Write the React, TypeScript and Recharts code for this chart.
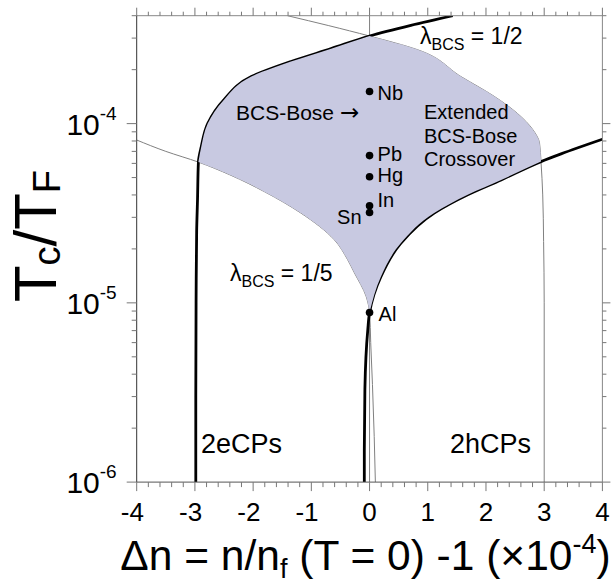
import React from 'react';
import { ComposedChart, Line, Scatter, XAxis, YAxis } from 'recharts';

// Δn (×1e-4) on x, Tc/TF on y (log scale)

// thick boundary on the 2eCP side
const leftBoundary = [
  { x: -2.985, y: 1e-6 }, { x: -2.985, y: 3e-6 }, { x: -2.98, y: 1e-5 }, { x: -2.97, y: 2.5e-5 },
  { x: -2.955, y: 3.8e-5 }, { x: -2.94, y: 6.1e-5 }, { x: -2.89, y: 7.45e-5 }, { x: -2.78, y: 1e-4 },
  { x: -2.5, y: 1.36e-4 }, { x: -2.03, y: 1.83e-4 }, { x: -1.35, y: 2.22e-4 }, { x: -0.66, y: 2.62e-4 },
  { x: 0, y: 3.08e-4 }, { x: 0.71, y: 3.53e-4 }, { x: 1.43, y: 4e-4 },
];

// thick boundary on the 2hCP side
const rightBoundary = [
  { x: -0.09, y: 1e-6 }, { x: -0.09, y: 1.5e-6 }, { x: -0.08, y: 3.3e-6 }, { x: -0.03, y: 7.1e-6 },
  { x: 0, y: 8.83e-6 }, { x: 0.195, y: 1.4e-5 }, { x: 0.536, y: 2.15e-5 }, { x: 1.11, y: 3.17e-5 },
  { x: 1.686, y: 4.01e-5 }, { x: 2.26, y: 4.85e-5 }, { x: 2.945, y: 6.14e-5 }, { x: 3.29, y: 6.78e-5 },
  { x: 4, y: 8.18e-5 },
];

// λBCS = 1/2 coupling curve
const lambdaHalf = [
  { x: -1.41, y: 4e-4 }, { x: -0.7, y: 3.52e-4 }, { x: 0, y: 3.08e-4 }, { x: 0.83, y: 2.58e-4 },
  { x: 1.57, y: 1.83e-4 }, { x: 2.14, y: 1.42e-4 }, { x: 2.54, y: 1.14e-4 }, { x: 2.8, y: 9.3e-5 },
  { x: 2.92, y: 7.8e-5 }, { x: 2.945, y: 6.14e-5 }, { x: 2.975, y: 4e-5 }, { x: 2.99, y: 2.2e-5 },
  { x: 3.0, y: 1e-5 }, { x: 3.0, y: 1e-6 },
];

// λBCS = 1/5 coupling curve
const lambdaFifth = [
  { x: -4, y: 8.1e-5 }, { x: -3.5, y: 7.0e-5 }, { x: -2.94, y: 6.1e-5 }, { x: -2.4, y: 5.18e-5 },
  { x: -1.8, y: 4.16e-5 }, { x: -1.18, y: 3.17e-5 }, { x: -0.606, y: 2.25e-5 }, { x: -0.376, y: 1.74e-5 },
  { x: -0.26, y: 1.47e-5 }, { x: -0.06, y: 1.09e-5 }, { x: 0, y: 8.83e-6 }, { x: 0.02, y: 6e-6 },
  { x: 0.05, y: 3.5e-6 }, { x: 0.08, y: 1.8e-6 }, { x: 0.1, y: 1e-6 },
];

// zero-doping guide line
const zeroLine = [{ x: 0, y: 1e-6 }, { x: 0, y: 4e-4 }];

// elemental superconductors at Δn = 0
const elements = [
  { name: 'Nb', x: 0, y: 1.51e-4 },
  { name: 'Pb', x: 0, y: 6.63e-5 },
  { name: 'Hg', x: 0, y: 5.05e-5 },
  { name: 'In', x: 0, y: 3.48e-5 },
  { name: 'Sn', x: 0, y: 3.19e-5 },
  { name: 'Al', x: 0, y: 8.83e-6 },
];

const xMajorTicks = [-4, -3, -2, -1, 0, 1, 2, 3, 4];
const yMajorTicks = [1e-6, 1e-5, 1e-4];
const yDomain: [number, number] = [1e-6, 4e-4];

// minor ticks every 0.2 along x, every mantissa step along the log y axis
const xTicks: number[] = [];
for (let k = 0; k <= 40; k++) xTicks.push(Math.round((-4 + k * 0.2) * 10) / 10);
const yTicks: number[] = [];
for (const base of yMajorTicks) {
  for (let m = 1; m <= 9; m++) {
    const v = Number((m * base).toPrecision(3));
    if (v <= yDomain[1] * 1.0001) yTicks.push(v);
  }
}

// label placement next to each element dot: [dx, dy, anchor]
const labelPlacement: Record<string, [number, number, 'start' | 'end']> = {
  Nb: [8, 8, 'start'],
  Pb: [8, 5, 'start'],
  Hg: [8, 5, 'start'],
  In: [8, 1, 'start'],
  Sn: [-8, 11, 'end'],
  Al: [9, 8, 'start'],
};

const FONT = 'Liberation Sans, Arial, Helvetica, sans-serif';
const FILL = '#c8c9e1';
const THIN = '#808080';

const isMajorX = (v: number) => xMajorTicks.some((t) => Math.abs(t - v) < 1e-6);
const isMajorY = (v: number) => yMajorTicks.some((t) => Math.abs(v / t - 1) < 1e-6);

// --- monotone-in-y cubic path (same scheme as d3 curveMonotoneY) ---
type P = { x: number; y: number };
const sgn = (v: number) => (v < 0 ? -1 : 1);
function slope3(a0: number, b0: number, a1: number, b1: number, a2: number, b2: number) {
  const h0 = a1 - a0;
  const h1 = a2 - a1;
  const s0 = (b1 - b0) / (h0 || (h1 < 0 ? -0 : 0));
  const s1 = (b2 - b1) / (h1 || (h0 < 0 ? -0 : 0));
  const p = (s0 * h1 + s1 * h0) / (h0 + h1);
  return (sgn(s0) + sgn(s1)) * Math.min(Math.abs(s0), Math.abs(s1), 0.5 * Math.abs(p)) || 0;
}
function slope2(a0: number, b0: number, a1: number, b1: number, t: number) {
  const h = a1 - a0;
  return h ? (3 * (b1 - b0) / h - t) / 2 : t;
}
function monotoneY(pts: P[], start: boolean): string {
  const A = pts.map((p) => p.y);
  const B = pts.map((p) => p.x);
  const n = pts.length;
  const f = (a: number, b: number) => `${b.toFixed(2)},${a.toFixed(2)}`;
  let d = start ? `M${f(A[0], B[0])}` : '';
  if (n === 2) return d + `L${f(A[1], B[1])}`;
  const t = new Array(n).fill(0);
  for (let i = 1; i < n - 1; i++) t[i] = slope3(A[i - 1], B[i - 1], A[i], B[i], A[i + 1], B[i + 1]);
  t[0] = slope2(A[0], B[0], A[1], B[1], t[1]);
  t[n - 1] = slope2(A[n - 2], B[n - 2], A[n - 1], B[n - 1], t[n - 2]);
  for (let i = 0; i < n - 1; i++) {
    const dx = (A[i + 1] - A[i]) / 3;
    d += `C${f(A[i] + dx, B[i] + dx * t[i])} ${f(A[i + 1] - dx, B[i + 1] - dx * t[i + 1])} ${f(A[i + 1], B[i + 1])}`;
  }
  return d;
}

// boundary of the extended crossover region, traced around its edge
const edgeUpperLeft = leftBoundary.filter((p) => p.y >= 6.1e-5 && p.x <= 0);
const edgeUpperRight = lambdaHalf.filter((p) => p.x >= 0 && p.y >= 6.14e-5);
const edgeLowerRight = rightBoundary.filter((p) => p.x >= 0 && p.x <= 2.945).reverse();
const edgeLowerLeft = lambdaFifth.filter((p) => p.x >= -2.94 && p.x <= 0).reverse();
const regionEdges = [edgeUpperLeft, edgeUpperRight, edgeLowerRight, edgeLowerLeft];
const regionVertices = regionEdges.flat();

const RegionShape = (props: any) => {
  const pts: P[] = props.points || [];
  let d = '';
  let k = 0;
  regionEdges.forEach((edge, i) => {
    const seg = pts.slice(k, k + edge.length);
    k += edge.length;
    d += monotoneY(seg, i === 0);
  });
  return <path d={d + 'Z'} fill={FILL} stroke="none" />;
};

const BottomTick = (props: any) => {
  const { x, y, payload } = props;
  const v = payload.value as number;
  const major = isMajorX(v);
  const digit = String(Math.abs(Math.round(v)));
  return (
    <g>
      <line x1={x} x2={x} y1={y} y2={y + (major ? 9 : 5)} stroke="#777" />
      {major && (
        <text x={x} y={y + 39} textAnchor="middle" fontSize={26} fontFamily={FONT} fill="#000">
          {digit}
        </text>
      )}
      {major && v < 0 && (
        <text x={x - 7.2} y={y + 39} textAnchor="end" fontSize={26} fontFamily={FONT} fill="#000">
          -
        </text>
      )}
    </g>
  );
};

const TopTick = (props: any) => {
  const { x, y, payload } = props;
  const major = isMajorX(payload.value);
  return <line x1={x} x2={x} y1={y} y2={y - (major ? 8 : 4)} stroke="#777" />;
};

const LeftTick = (props: any) => {
  const { x, y, payload } = props;
  const v = payload.value as number;
  const major = isMajorY(v);
  const exp = Math.round(Math.log10(v));
  return (
    <g>
      <line x1={x - (major ? 10 : 5)} x2={x} y1={y} y2={y} stroke="#777" />
      {major && (
        <text x={x - 20} y={y + 11} textAnchor="end" fontSize={30} fontFamily={FONT} fill="#000">
          10
          <tspan dy={-15} fontSize={19}>{`-${-exp}`}</tspan>
        </text>
      )}
    </g>
  );
};

const RightTick = (props: any) => {
  const { x, y, payload } = props;
  const major = isMajorY(payload.value);
  return <line x1={x} x2={x + (major ? 8 : 4)} y1={y} y2={y} stroke="#777" />;
};

const ElementDot = (props: any) => {
  const { cx, cy, payload } = props;
  const [dx, dy, anchor] = labelPlacement[payload.name];
  return (
    <g>
      <circle cx={cx} cy={cy} r={3.8} fill="#000" />
      <text x={cx + dx} y={cy + dy} textAnchor={anchor} fontSize={20} fontFamily={FONT} fill="#000">
        {payload.name}
      </text>
    </g>
  );
};

const Hidden = () => <g />;

export default function App() {
  return (
    <div style={{ position: 'absolute', left: 0, top: 0, width: 616, height: 588, background: '#fff' }}>
      <ComposedChart
        width={616}
        height={588}
        margin={{ top: 5.7, right: 3.6, bottom: 65.9, left: 76.7 }}
      >
        <XAxis
          xAxisId={0}
          type="number"
          dataKey="x"
          domain={[-4, 4]}
          ticks={xTicks}
          interval={0}
          allowDataOverflow
          tickLine={false}
          tickSize={0}
          tickMargin={0}
          height={40}
          axisLine={{ stroke: '#555' }}
          tick={(p: any) => <BottomTick {...p} />}
        />
        <XAxis
          xAxisId="top"
          orientation="top"
          type="number"
          dataKey="x"
          domain={[-4, 4]}
          ticks={xTicks}
          interval={0}
          allowDataOverflow
          tickLine={false}
          tickSize={0}
          tickMargin={0}
          height={10}
          axisLine={{ stroke: '#888' }}
          tick={(p: any) => <TopTick {...p} />}
        />
        <YAxis
          yAxisId={0}
          type="number"
          dataKey="y"
          scale="log"
          domain={yDomain}
          ticks={yTicks}
          interval={0}
          allowDataOverflow
          tickLine={false}
          tickSize={0}
          tickMargin={0}
          width={60}
          axisLine={{ stroke: '#333' }}
          tick={(p: any) => <LeftTick {...p} />}
        />
        <YAxis
          yAxisId="right"
          orientation="right"
          type="number"
          dataKey="y"
          scale="log"
          domain={yDomain}
          ticks={yTicks}
          interval={0}
          allowDataOverflow
          tickLine={false}
          tickSize={0}
          tickMargin={0}
          width={10}
          axisLine={{ stroke: '#888' }}
          tick={(p: any) => <RightTick {...p} />}
        />

        <Scatter
          data={regionVertices}
          shape={Hidden}
          line={(p: any) => <RegionShape {...p} />}
          lineType="joint"
          isAnimationActive={false}
        />
        <Line data={zeroLine} dataKey="y" type="linear" stroke={THIN} strokeWidth={1} dot={false} isAnimationActive={false} />
        <Line data={lambdaHalf} dataKey="y" type="monotoneY" stroke={THIN} strokeWidth={1} dot={false} isAnimationActive={false} />
        <Line data={lambdaFifth} dataKey="y" type="monotoneY" stroke={THIN} strokeWidth={1} dot={false} isAnimationActive={false} />
        <Line data={leftBoundary} dataKey="y" type="monotoneY" stroke="#000" strokeWidth={2.8} dot={false} isAnimationActive={false} />
        <Line data={rightBoundary} dataKey="y" type="monotoneY" stroke="#000" strokeWidth={2.8} dot={false} isAnimationActive={false} />
        <Scatter data={elements} shape={(p: any) => <ElementDot {...p} />} isAnimationActive={false} />
      </ComposedChart>

      <svg
        width={616}
        height={588}
        style={{ position: 'absolute', left: 0, top: 0, pointerEvents: 'none' }}
        fontFamily={FONT}
      >
        <text x={420} y={44} fontSize={23} fill="#000">
          λ<tspan fontSize={16} dy={6}>BCS</tspan>
          <tspan dy={-6}> = 1/2</tspan>
        </text>
        <text x={230} y={281} fontSize={23} fill="#000">
          λ<tspan fontSize={16} dy={6}>BCS</tspan>
          <tspan dy={-6}> = 1/5</tspan>
        </text>
        <text x={236} y={120} fontSize={21} fill="#000">
          BCS-Bose <tspan fontFamily="DejaVu Sans" fontSize={23}>→</tspan>
        </text>
        <text x={424} y={119} fontSize={20} fill="#000">Extended</text>
        <text x={424} y={142.5} fontSize={20} fill="#000">BCS-Bose</text>
        <text x={424} y={166} fontSize={20} fill="#000">Crossover</text>
        <text x={201} y={453} fontSize={27} fill="#000">2eCPs</text>
        <text x={450} y={453} fontSize={27} fill="#000">2hCPs</text>
        <text x={365.5} y={570} fontSize={42.5} textAnchor="middle" fill="#000">
          Δn = n/n<tspan fontSize={27} dy={8}>f</tspan>
          <tspan dy={-8}> (T = 0) -1 (×10</tspan>
          <tspan fontSize={27} dy={-17}>-4</tspan>
          <tspan dy={17}>)</tspan>
        </text>
        <text transform="translate(56,236) rotate(-90)" fontSize={60} textAnchor="middle" fill="#000">
          T<tspan fontSize={38} dy={4}>c</tspan>
          <tspan dy={-4}>/T</tspan>
          <tspan fontSize={38} dy={4}>F</tspan>
        </text>
      </svg>
    </div>
  );
}
